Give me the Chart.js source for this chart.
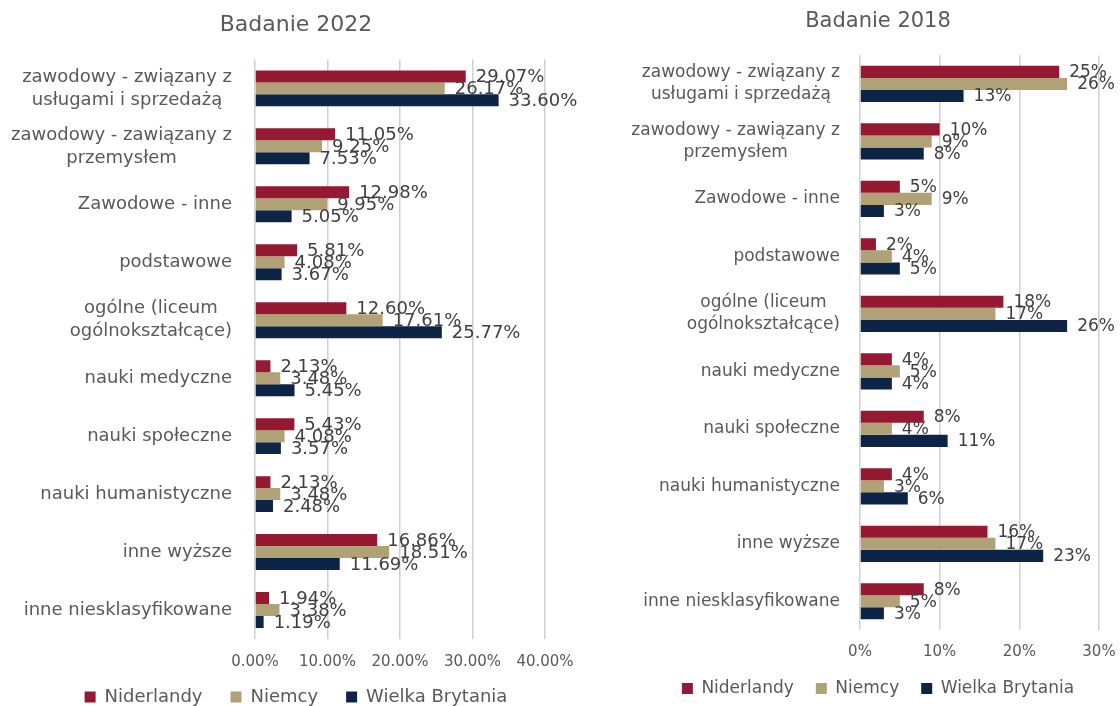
<!DOCTYPE html>
<html>
<head>
<meta charset="utf-8">
<script src="https://cdn.jsdelivr.net/npm/chart.js@4"></script>
<style>
html, body { margin: 0; padding: 0; background: #fff; }
#wrap { position: relative; width: 1120px; height: 706px; overflow: hidden; }
canvas { position: absolute; top: 0; }
#chart2022 { left: 0; }
#chart2018 { left: 600px; }
</style>
</head>
<body>
<div id="wrap">
  <canvas id="chart2022" width="592" height="706"></canvas>
  <canvas id="chart2018" width="520" height="706"></canvas>
</div>
<script>
// kategorie (wspólne dla obu badań)
var categories = [
  ['zawodowy - związany z', 'usługami i sprzedażą'],
  ['zawodowy - zawiązany z', 'przemysłem'],
  'Zawodowe - inne',
  'podstawowe',
  ['ogólne (liceum', 'ogólnokształcące)'],
  'nauki medyczne',
  'nauki społeczne',
  'nauki humanistyczne',
  'inne wyższe',
  'inne niesklasyfikowane'
];
var seriesNames = ['Niderlandy', 'Niemcy', 'Wielka Brytania'];

// Badanie 2022 (%)
var nl2022 = [29.07, 11.05, 12.98, 5.81, 12.60, 2.13, 5.43, 2.13, 16.86, 1.94];
var de2022 = [26.17, 9.25, 9.95, 4.08, 17.61, 3.48, 4.08, 3.48, 18.51, 3.38];
var uk2022 = [33.60, 7.53, 5.05, 3.67, 25.77, 5.45, 3.57, 2.48, 11.69, 1.19];
var ticks2022 = [0, 10, 20, 30, 40];

// Badanie 2018 (%)
var nl2018 = [25, 10, 5, 2, 18, 4, 8, 4, 16, 8];
var de2018 = [26, 9, 9, 4, 17, 5, 4, 3, 17, 5];
var uk2018 = [13, 8, 3, 5, 26, 4, 11, 6, 23, 3];
var ticks2018 = [0, 10, 20, 30];

var colors = ['#951a31', '#b0a276', '#0e2447'];

Chart.defaults.font.family = 'DejaVu Sans';
Chart.defaults.color = '#595959';

// etykiety kategorii, osi X i wartości rysowane na podstawie skal wykresu
var barText = {
  id: 'barText',
  afterDatasetsDraw: function(chart, args, opts) {
    var ctx = chart.ctx;
    var area = chart.chartArea;
    ctx.save();
    ctx.font = opts.valueSize + 'px "DejaVu Sans"';
    ctx.fillStyle = '#404040';
    ctx.textAlign = 'left';
    ctx.textBaseline = 'middle';
    chart.data.datasets.forEach(function(ds, i) {
      var meta = chart.getDatasetMeta(i);
      meta.data.forEach(function(bar, j) {
        ctx.fillText(ds.data[j].toFixed(opts.decimals) + '%', bar.x + opts.offset, bar.y + 1);
      });
    });

    // osie
    var xScale = chart.scales.x;
    ctx.font = opts.tickSize + 'px "DejaVu Sans"';
    ctx.fillStyle = '#595959';
    ctx.textAlign = 'center';
    xScale.ticks.forEach(function(t) {
      ctx.fillText(t.value.toFixed(opts.decimals) + '%', xScale.getPixelForValue(t.value), area.bottom + opts.tickOffset);
    });

    var yScale = chart.scales.y;
    ctx.font = opts.labelSize + 'px "DejaVu Sans"';
    var right = area.left - opts.labelGap;
    chart.data.labels.forEach(function(label, i) {
      var lines = [].concat(label);
      var w = 0;
      lines.forEach(function(l) { w = Math.max(w, ctx.measureText(l).width); });
      var cy = yScale.getPixelForTick(i);
      lines.forEach(function(line, k) {
        ctx.fillText(line, right - w / 2, cy + (k - (lines.length - 1) / 2) * opts.lineHeight);
      });
    });
    ctx.restore();
  }
};

function makeDatasets(a, b, c, pct) {
  return [a, b, c].map(function(d, i) {
    return {
      label: seriesNames[i],
      data: d,
      backgroundColor: colors[i],
      borderWidth: 0,
      categoryPercentage: pct,
      barPercentage: 1
    };
  });
}

function drawChart(id, cfg) {
  var ctx = document.getElementById(id).getContext('2d');
  return new Chart(ctx, {
    type: 'bar',
    data: {
      labels: categories,
      datasets: makeDatasets(cfg.a, cfg.b, cfg.c, cfg.pct)
    },
    plugins: [barText],
    options: {
      responsive: false,
      animation: false,
      indexAxis: 'y',
      layout: { padding: { left: cfg.padLeft, right: cfg.padRight, top: 0, bottom: 0 } },
      scales: {
        x: {
          min: 0,
          max: cfg.ticks[cfg.ticks.length - 1],
          afterBuildTicks: function(scale) {
            scale.ticks = cfg.ticks.map(function(v) { return { value: v }; });
          },
          afterFit: function(scale) { scale.height = cfg.axisHeight; },
          ticks: { display: false },
          grid: { color: '#d0d0d0', lineWidth: 1.5, drawTicks: false },
          border: { display: false }
        },
        y: {
          ticks: { display: false },
          grid: { display: false },
          border: { display: false },
          afterFit: function(scale) { scale.width = cfg.axisWidth; }
        }
      },
      plugins: {
        title: {
          display: true,
          text: cfg.title,
          color: '#595959',
          font: { size: cfg.titleSize, weight: 'normal' },
          padding: { top: cfg.titleTop, bottom: cfg.titleBottom }
        },
        legend: {
          position: 'bottom',
          maxHeight: cfg.legendHeight,
          labels: {
            boxWidth: 11,
            boxHeight: 11,
            color: '#595959',
            font: { size: cfg.legendSize },
            padding: cfg.legendPad
          }
        },
        tooltip: { enabled: false },
        barText: {
          decimals: cfg.decimals,
          valueSize: cfg.valueSize,
          labelSize: cfg.labelSize,
          labelGap: cfg.labelGap,
          lineHeight: cfg.lineHeight,
          tickSize: cfg.tickSize,
          tickOffset: cfg.tickOffset,
          offset: 10
        }
      }
    }
  });
}

drawChart('chart2022', {
  title: 'Badanie 2022', a: nl2022, b: de2022, c: uk2022, ticks: ticks2022,
  decimals: 2, pct: 0.62, padLeft: 47, padRight: 47, axisWidth: 208,
  titleSize: 22, titleTop: 12, titleBottom: 21, tickSize: 15, tickOffset: 23, axisHeight: 21,
  legendHeight: 46, legendPad: 28, legendSize: 18, valueSize: 18, labelSize: 18, labelGap: 23, lineHeight: 23
});

drawChart('chart2018', {
  title: 'Badanie 2018', a: nl2018, b: de2018, c: uk2018, ticks: ticks2018,
  decimals: 0, pct: 0.63, padLeft: 57, padRight: 21, axisWidth: 203,
  titleSize: 21, titleTop: 9, titleBottom: 21, tickSize: 15, tickOffset: 22, axisHeight: 28,
  legendHeight: 48, legendPad: 22, legendSize: 17, valueSize: 17, labelSize: 17, labelGap: 20, lineHeight: 22
});
</script>
</body>
</html>
